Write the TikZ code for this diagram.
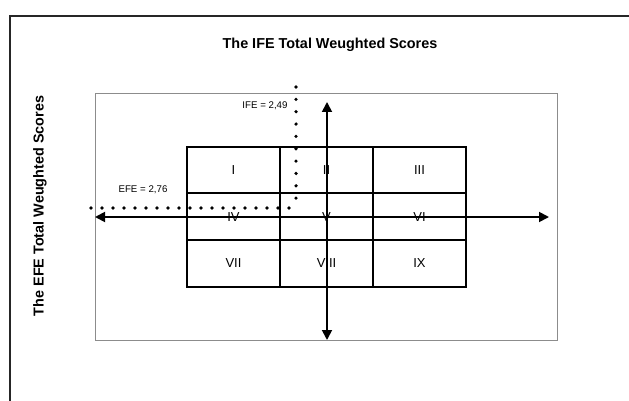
\documentclass[tikz,border=0pt]{standalone}
\usepackage{fontspec}
\setmainfont{Liberation Sans}
\usetikzlibrary{arrows.meta}
\begin{document}
\begin{tikzpicture}[x=1pt,y=-1pt,
  cell/.style={draw=black,line width=1.8pt,minimum width=93pt,minimum height=46.7pt,inner sep=0pt,font=\fontsize{13}{13}\selectfont},
  axis/.style={line width=1.8pt,{Triangle[length=10pt,width=10pt]}-{Triangle[length=10pt,width=10pt]}},
  dotv/.style={line width=3.6pt,line cap=round,dash pattern=on 0pt off 12.35pt},
  doth/.style={line width=3.6pt,line cap=round,dash pattern=on 0pt off 11pt},
  ttl/.style={font=\bfseries\fontsize{14.4}{14.4}\selectfont,inner sep=0pt},
  small/.style={font=\fontsize{9.7}{9.7}\selectfont,inner sep=0pt}]
\useasboundingbox (0,0) rectangle (629,401);
% outer frame (top and left edges)
\draw[line width=1.3pt,black!85] (10,401) -- (10,16) -- (629,16);
% gray plot area
\draw[line width=0.9pt,black!45] (95,93) rectangle (557,340);
% titles
\node[ttl] (title) at (330,45) {The IFE Total Weughted Scores};
\node[ttl,rotate=90] (ytitle) at (40,206) {The EFE Total Weughted Scores};
% grid cells
\node[cell] (c1) at (233.5,170) {I};
\node[cell] (c2) at (326.5,170) {II};
\node[cell] (c3) at (419.5,170) {III};
\node[cell] (c4) at (233.5,216.7) {IV};
\node[cell] (c5) at (326.5,216.7) {V};
\node[cell] (c6) at (419.5,216.7) {VI};
\node[cell] (c7) at (233.5,263.4) {VII};
\node[cell] (c8) at (326.5,263.4) {VIII};
\node[cell] (c9) at (419.5,263.4) {IX};
% axes
\coordinate (xl) at (95,217);
\coordinate (xr) at (549,217);
\coordinate (yt) at (327,102);
\coordinate (yb) at (327,340);
\draw[axis] (xl) -- (xr);
\draw[axis] (yb) -- (yt);
% dotted threshold lines
\coordinate (vt) at (296,87);
\coordinate (vb) at (296,199);
\coordinate (hl) at (91,208);
\coordinate (hr) at (290,208);
\draw[dotv] (vt) -- (vb);
\draw[doth] (hl) -- (hr);
% labels
\node[small] (ife) at (265,106) {IFE = 2,49};
\node[small] (efe) at (143,190) {EFE = 2,76};
\end{tikzpicture}
\end{document}
